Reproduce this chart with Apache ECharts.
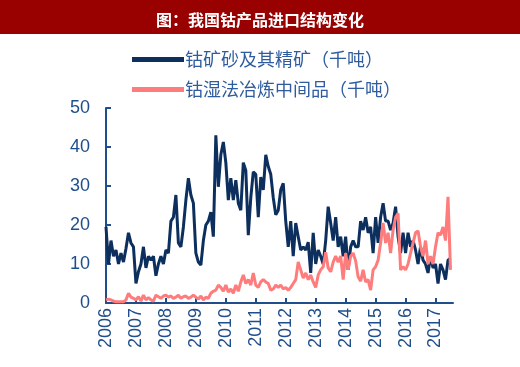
<!DOCTYPE html>
<html><head><meta charset="utf-8">
<script src="https://cdn.jsdelivr.net/npm/echarts@6/dist/echarts.min.js"></script>
<style>html,body{margin:0;padding:0;background:#fff}#c{width:520px;height:367px}</style>
</head><body><div id="c"></div>
<script>
var titleText = '图：我国钴产品进口结构变化';
var seriesNames = ['钴矿砂及其精矿（千吨）', '钴湿法冶炼中间品（千吨）'];
var years = [2006,2007,2008,2009,2010,2011,2012,2013,2014,2015,2016,2017];
var yTicks = [0,10,20,30,40,50];
// monthly values, 2006-01 .. 2017-07
var ore = [
 19.5,10,16,12,13.6,10,12.8,10.5,14,18,15.4,14.4,
 5,8,10,14.4,9,12,11,12,7,10,12,10,
 13.6,12.8,21,22,27.7,15.4,14.4,19.5,26.4,32,27.7,25.6,
 12.8,10.5,9.7,16,20,21,23.3,17,43,29.8,38,41.3,
 36,26.4,32,26.4,31.5,25.6,23.8,36,34,17.4,27,33.6,
 33,22,32.3,29,38,35,33,27,22.6,23.8,29,30.7,
 21,14.4,21,12,20.5,17,13.6,14.4,13.6,15.6,7.7,18,
 10,13.6,12,10,16,24.7,20.5,16,22,14.4,17,12,
 17,8.5,14.4,16,14.4,14.4,21,18.7,22,18,19.5,12.8,
 22,15.4,22,25.6,21,21,18.7,20.5,24.7,17,12.8,18,
 12.8,18,14.4,16,13.6,10,14.4,11,10,7.7,12,9,
 10,5,10,8.5,6,11,11.5
];
var hydro = [
 0.8,1,0.8,0.5,0.3,0.3,0.3,0.3,0.8,2.5,1.5,1.2,
 0.8,1.6,0.5,2,0.8,1.4,0.8,0.5,2,1.6,1.2,1.8,
 2,1.5,1.8,1.2,1.5,2,1.2,1.6,1.8,1.2,1.5,2,
 1.5,1,1.8,0.8,1.5,1.2,2.5,3,3.3,4.6,4,3,
 4.6,2.8,3.6,2.5,4.6,3,5.4,7.2,5,6,4.6,7.7,
 4.6,4,5.4,6,5.4,5,3.3,3.6,4.6,4,4.6,3.6,
 4,3.3,4,5,6,10.5,8.5,6.4,7.7,6,7.2,5.4,
 4,7.2,8.5,9.3,13,9,8,10.5,12,10.5,12,6,
 12.8,8.5,12,12.8,10.8,6.7,5.6,8.5,5.4,6,3.3,8.5,
 9.3,11,15.4,20.5,15.4,18,12.8,18.7,22,23,8.5,9.3,
 8.5,10,12.8,15.4,18,18.5,14.4,12,16,10,12,10,
 14.4,18,17.4,19.5,16,27.2,8.5
];
var months = [];
years.forEach(function(y){ for (var m=1;m<=12;m++){ months.push(y+'-'+(m<10?'0':'')+m); } });
months = months.slice(0, 140); // axis runs to 2017-08

var axisColor = '#1f4e8c';
var chart = echarts.init(document.getElementById('c'), null, {renderer:'canvas'});
chart.setOption({
  animation:false,
  backgroundColor:'#fff',
  graphic:[{type:'rect', left:0, top:0, shape:{width:520, height:34}, style:{fill:'#990000'}, z:0}],
  title:{text:titleText, left:'center', top:7, textStyle:{color:'#fff', fontSize:16, fontWeight:'bold', fontFamily:'Noto Sans CJK SC'}, z:5},
  legend:{
    orient:'vertical', left:127, top:44, itemWidth:52, itemHeight:5, itemGap:9, icon:'rect',
    textStyle:{color:'#2f5c9e', fontSize:18, lineHeight:21, fontFamily:'Noto Sans CJK SC', padding:[0,0,0,-4]},
    data:seriesNames
  },
  grid:{left:106, right:67, top:108, bottom:64, containLabel:false},
  xAxis:{
    type:'category', boundaryGap:false, data:months,
    axisLine:{lineStyle:{color:axisColor, width:2}},
    axisTick:{inside:true, length:5, lineStyle:{color:axisColor, width:2}, interval:function(i,v){return v.slice(5)==='01';}},
    axisLabel:{interval:function(i,v){return v.slice(5)==='01';}, formatter:function(v){return v.slice(0,4);}, rotate:90, margin:5, color:axisColor, fontSize:18, fontFamily:'Liberation Sans'},
    splitLine:{show:false}
  },
  yAxis:{
    type:'value', min:yTicks[0], max:yTicks[yTicks.length-1], interval:10,
    axisLine:{show:true, lineStyle:{color:axisColor, width:2}},
    axisTick:{show:true, inside:true, length:5, lineStyle:{color:axisColor, width:2}},
    axisLabel:{color:axisColor, fontSize:18, margin:16, fontFamily:'Liberation Sans'},
    splitLine:{show:false}
  },
  series:[
    {name:seriesNames[0], type:'line', data:ore, showSymbol:false, symbol:'none', lineStyle:{color:'#0c2f5e', width:3}, itemStyle:{color:'#0c2f5e'}},
    {name:seriesNames[1], type:'line', data:hydro, showSymbol:false, symbol:'none', lineStyle:{color:'#ff7c7c', width:3}, itemStyle:{color:'#ff7c7c'}}
  ]
});
</script></body></html>
